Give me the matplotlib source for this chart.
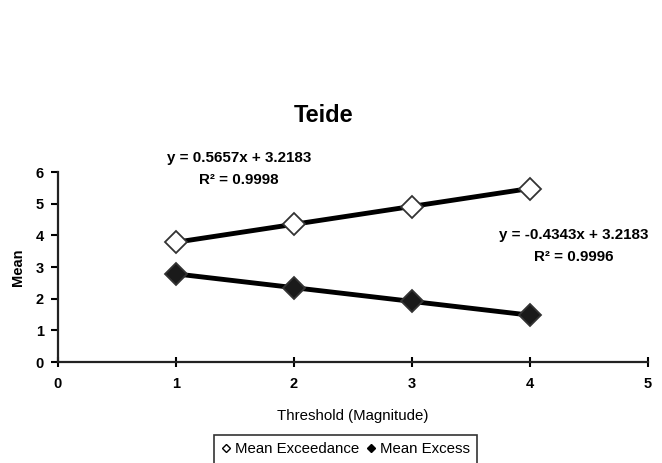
import numpy as np
import matplotlib
matplotlib.use("Agg")
import matplotlib.pyplot as plt
from matplotlib.lines import Line2D

# Threshold magnitudes and the two mean statistics for Teide
thresholds = [1, 2, 3, 4]
mean_exceedance = [3.79, 4.35, 4.91, 5.48]
mean_excess = [2.79, 2.35, 1.92, 1.48]

# Linear trend coefficients (slope, intercept, R²)
exceed_fit = (0.5657, 3.2183, 0.9998)
excess_fit = (-0.4343, 3.2183, 0.9996)

x_ticks = [0, 1, 2, 3, 4, 5]
y_ticks = [0, 1, 2, 3, 4, 5, 6]

plt.rcParams["font.family"] = ["Liberation Sans", "DejaVu Sans"]

fig = plt.figure(figsize=(6.62, 4.63), dpi=100)
ax = fig.add_axes([0.0876, 0.218, 0.891, 0.4104])

xs = np.array(thresholds, dtype=float)
for (slope, icpt, _), vals, face in ((exceed_fit, mean_exceedance, "white"),
                                     (excess_fit, mean_excess, "#1a1a1a")):
    ax.plot(xs, slope * xs + icpt, color="black", lw=3.5, zorder=2,
            solid_capstyle="butt")
    ax.plot(thresholds, vals, linestyle="none", marker="D", markersize=11,
            markerfacecolor=face, markeredgecolor="#333333",
            markeredgewidth=1.3, zorder=3)

ax.set_xlim(0, 5)
ax.set_ylim(0, 6)
ax.set_xticks(x_ticks)
ax.set_yticks(y_ticks)
ax.spines["top"].set_visible(False)
ax.spines["right"].set_visible(False)
for s in ("left", "bottom"):
    ax.spines[s].set_linewidth(1.6)
    ax.spines[s].set_color("#222222")
ax.tick_params(axis="x", direction="inout", length=7, width=1.5,
               labelsize=10.5, pad=7)
ax.tick_params(axis="y", direction="out", length=5, width=1.5,
               labelsize=10.5, pad=5)
for lbl in ax.get_xticklabels() + ax.get_yticklabels():
    lbl.set_fontweight("bold")

ax.set_ylabel("Mean", fontsize=10.5, fontweight="bold", labelpad=8)
ax.set_xlabel("Threshold (Magnitude)", fontsize=10.8, labelpad=13)

fig.text(324 / 662, 1 - 116 / 463, "Teide", ha="center", va="center",
         fontsize=17, fontweight="bold")

for (slope, icpt, r2), xc, yc, r2x in ((exceed_fit, 239.5, 158, 239),
                                       (excess_fit, 574, 235, 574)):
    sign = "+" if icpt >= 0 else "-"
    fig.text(xc / 662, 1 - yc / 463,
             f"y = {slope:.4f}x {sign} {abs(icpt):.4f}",
             ha="center", va="center", fontsize=10.9, fontweight="bold")
    fig.text(r2x / 662, 1 - (yc + 22) / 463, f"R² = {r2:.4f}",
             ha="center", va="center", fontsize=10.9, fontweight="bold")

handles = [
    Line2D([], [], linestyle="none", marker="D", markersize=4.5,
           markerfacecolor="white", markeredgecolor="black",
           markeredgewidth=1.0),
    Line2D([], [], linestyle="none", marker="D", markersize=4.5,
           markerfacecolor="black", markeredgecolor="black"),
]
leg = fig.legend(handles, ["Mean Exceedance", "Mean Excess"], ncol=2,
                 loc="upper center", bbox_to_anchor=(0.522, 0.061),
                 fontsize=10.8, frameon=True, fancybox=False,
                 handlelength=0.6, handletextpad=0.3, columnspacing=0.5,
                 borderpad=0.5, borderaxespad=0)
leg.get_frame().set_edgecolor("black")
leg.get_frame().set_linewidth(1.2)

fig.savefig("out.png", dpi=100)
